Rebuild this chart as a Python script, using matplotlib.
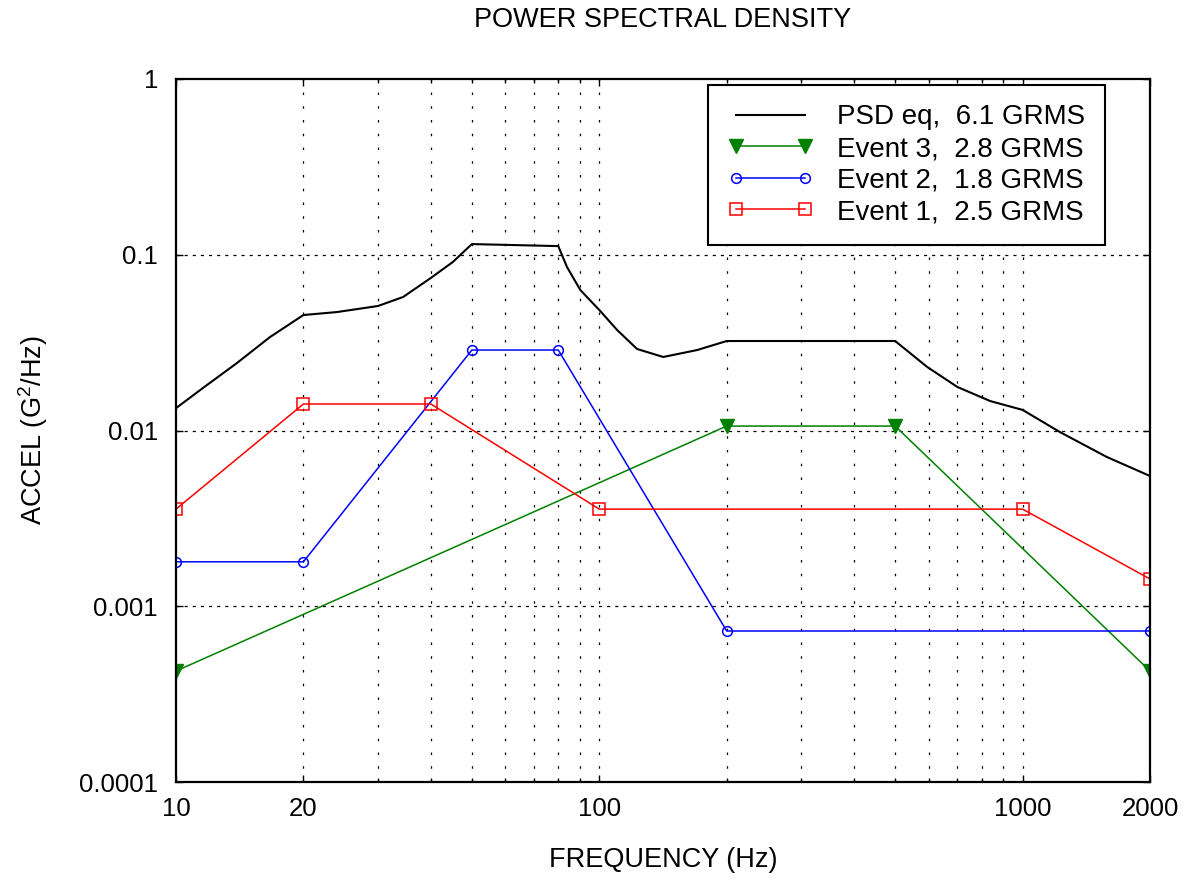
import matplotlib
matplotlib.use("Agg")
import matplotlib.pyplot as plt
from matplotlib.ticker import FixedLocator, NullFormatter, LogLocator

plt.rcParams['font.family'] = ['Liberation Sans', 'DejaVu Sans']
plt.rcParams['mathtext.fontset'] = 'custom'
plt.rcParams['mathtext.rm'] = 'Liberation Sans'

# ---- data ----
psd_freq = [10, 11.58, 13.93, 16.67, 20, 24.0, 30, 34.4, 40, 45.1, 50, 80, 83.9, 90.2,
            100, 110.2, 122.8, 141.6, 170.3, 200, 500, 595, 701, 839, 1000, 1225,
            1581, 2000]
psd_val = [0.0134, 0.01746, 0.0242, 0.0340, 0.0454, 0.0472, 0.0511, 0.0575, 0.0738,
           0.0910, 0.115, 0.112, 0.0851, 0.0630, 0.0485, 0.0373, 0.0291, 0.0262,
           0.0287, 0.0323, 0.0323, 0.0230, 0.0177, 0.0147, 0.0131, 0.0098, 0.00707,
           0.00551]

ev3_freq = [10, 200, 500, 2000]
ev3_val = [0.000428, 0.0106, 0.0106, 0.000428]

ev2_freq = [10, 20, 50, 80, 200, 2000]
ev2_val = [0.00179, 0.00179, 0.0287, 0.0287, 0.000723, 0.000723]

ev1_freq = [10, 20, 40, 100, 1000, 2000]
ev1_val = [0.00357, 0.01415, 0.01415, 0.00357, 0.00357, 0.00143]

labels = ["PSD eq,  6.1 GRMS", "Event 3,  2.8 GRMS", "Event 2,  1.8 GRMS", "Event 1,  2.5 GRMS"]
xticks = [10, 20, 100, 1000, 2000]
xticklabels = ["10", "20", "100", "1000", "2000"]
yticks = [0.0001, 0.001, 0.01, 0.1, 1]
yticklabels = ["0.0001", "0.001", "0.01", "0.1", "1"]

# ---- figure ----
W, H = 1188, 882
fig = plt.figure(figsize=(W / 100, H / 100), dpi=100)
L, R, T, B = 176, 1150, 79, 782
ax = fig.add_axes([L / W, 1 - B / H, (R - L) / W, (B - T) / H])

ax.plot(psd_freq, psd_val, color='black', lw=1.5, label=labels[0])
ax.plot(ev3_freq, ev3_val, color='#008000', lw=1.1, marker='v', ms=9.5,
        mfc='#008000', mec='#008000', label=labels[1])
ax.plot(ev2_freq, ev2_val, color='#0000ff', lw=1.1, marker='o', ms=7,
        mfc='none', mec='#0000ff', mew=1.1, label=labels[2])
ax.plot(ev1_freq, ev1_val, color='#ff0000', lw=1.1, marker='s', ms=8.5,
        mfc='none', mec='#ff0000', mew=1.1, label=labels[3])

ax.set_xscale('log')
ax.set_yscale('log')
ax.set_xlim(10, 2000)
ax.set_ylim(1e-4, 1)

ax.xaxis.set_major_locator(FixedLocator(xticks))
ax.set_xticklabels(xticklabels)
ax.xaxis.set_minor_locator(LogLocator(base=10, subs=range(2, 10)))
ax.xaxis.set_minor_formatter(NullFormatter())
ax.yaxis.set_major_locator(FixedLocator(yticks))
ax.set_yticklabels(yticklabels)
ax.yaxis.set_minor_locator(FixedLocator([]))

ax.tick_params(which='both', direction='in', top=True, right=True, labelsize=18.5,
               width=1.0, color='black')
ax.tick_params(which='major', length=5)
ax.tick_params(axis='x', which='major', pad=11)
ax.tick_params(axis='y', which='major', pad=13)
ax.tick_params(which='minor', length=3)

# grid
for xv in [v * d for d in (10, 100, 1000) for v in range(1, 10)] + [2000]:
    if 10 < xv < 2000:
        ax.axvline(xv, color='black', lw=0.9, ls=(0, (2, 9)), zorder=0.5)
for yv in yticks[1:-1]:
    ax.axhline(yv, color='black', lw=0.9, ls=(0, (2.5, 4)), zorder=0.5)

for s in ax.spines.values():
    s.set_linewidth(1.6)

fig.text(663 / W, 1 - 20 / H, "POWER SPECTRAL DENSITY", fontsize=19.5,
         ha='center', va='center')
ax.set_xlabel("FREQUENCY (Hz)", fontsize=19.5, va='center')
ax.xaxis.set_label_coords(0.5, (B - 860) / (B - T))
ax.set_ylabel("ACCEL (G$\\mathregular{^2}$/Hz)", fontsize=19.5, va='center')
ax.yaxis.set_label_coords((33 - L) / (R - L), 0.5)

leg = ax.legend(loc='upper right', bbox_to_anchor=((1105 - L) / (R - L), (B - 85) / (B - T)),
                borderaxespad=0, fontsize=20, numpoints=2, handlelength=3.1,
                handletextpad=0.85, labelspacing=0.2, fancybox=False, framealpha=1,
                edgecolor='black', borderpad=0.7)
leg.get_frame().set_linewidth(1.5)

fig.savefig("out.png", dpi=100)
